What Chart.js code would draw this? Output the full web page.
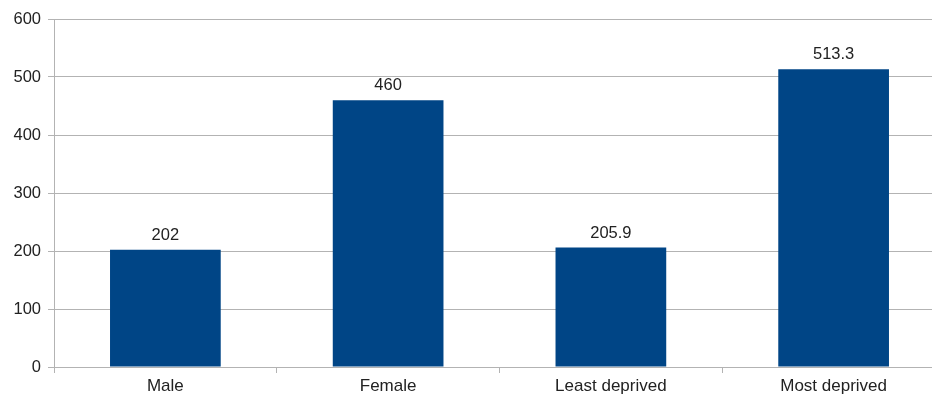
<!DOCTYPE html>
<html>
<head>
<meta charset="utf-8">
<script src="https://cdn.jsdelivr.net/npm/chart.js@4/dist/chart.umd.min.js"></script>
<style>
html,body{margin:0;padding:0;background:#fff;}
#wrap{width:932px;height:401px;position:relative;overflow:hidden;}
</style>
</head>
<body>
<div id="wrap"><canvas id="c" width="947" height="401"></canvas></div>
<script>
const categories = ["Male", "Female", "Least deprived", "Most deprived"];
const values = [202, 460, 205.9, 513.3];
const valueLabels = ["202", "460", "205.9", "513.3"];
const yTicks = [0, 100, 200, 300, 400, 500, 600];

const FONT = "'Liberation Sans', Arial, sans-serif";
const TEXT = '#222222';
const GRID = '#b3b3b3';

const valueLabelPlugin = {
  id: 'valueLabels',
  afterDatasetsDraw(chart) {
    const ctx = chart.ctx;
    const meta = chart.getDatasetMeta(0);
    ctx.save();
    ctx.font = '16.5px ' + FONT;
    ctx.fillStyle = TEXT;
    ctx.textAlign = 'center';
    ctx.textBaseline = 'alphabetic';
    meta.data.forEach((bar, i) => {
      ctx.fillText(valueLabels[i], bar.x, bar.y - 10);
    });
    ctx.restore();
  }
};

new Chart(document.getElementById('c'), {
  type: 'bar',
  data: {
    labels: categories,
    datasets: [{
      data: values,
      backgroundColor: '#004586',
      borderWidth: 0,
      barPercentage: 0.497,
      categoryPercentage: 1.0
    }]
  },
  options: {
    responsive: false,
    animation: false,
    devicePixelRatio: 1,
    layout: { padding: { top: 19, right: 2, left: 0, bottom: 0 } },
    plugins: { legend: { display: false }, tooltip: { enabled: false } },
    scales: {
      x: {
        offset: true,
        grid: { offset: true, drawOnChartArea: false, drawTicks: true, tickLength: 6, color: GRID },
        border: { display: true, color: GRID, width: 1 },
        ticks: { color: TEXT, font: { family: FONT, size: 17 }, padding: 3, maxRotation: 0 },
        afterFit(s) { s.height = 34; }
      },
      y: {
        min: 0, max: 600,
        afterBuildTicks(s) { s.ticks = yTicks.map(v => ({ value: v })); },
        grid: { color: GRID, tickLength: 6, drawTicks: true },
        border: { display: true, color: GRID, width: 1 },
        ticks: { color: TEXT, font: { family: FONT, size: 16.5 }, padding: 7 },
        afterFit(s) { s.width = 54; }
      }
    }
  },
  plugins: [valueLabelPlugin]
});
</script>
</body>
</html>
